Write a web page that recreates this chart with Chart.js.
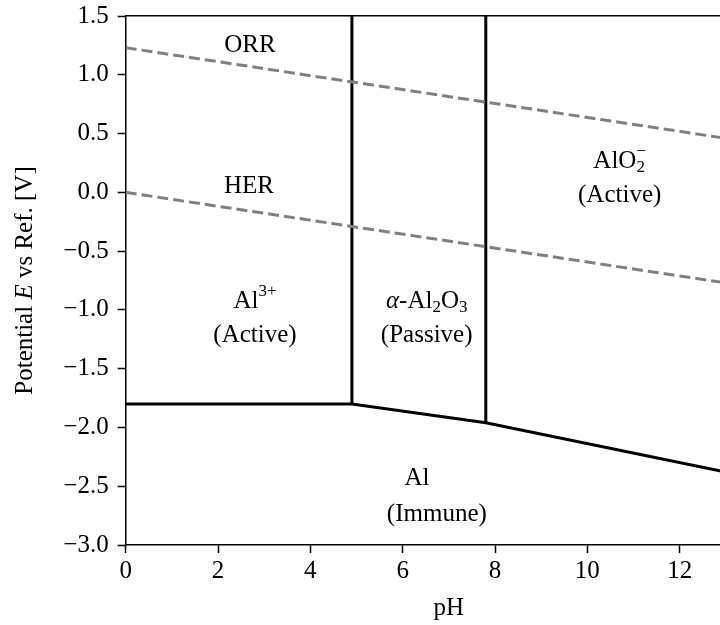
<!DOCTYPE html>
<html>
<head>
<meta charset="utf-8">
<script src="https://cdn.jsdelivr.net/npm/chart.js@4.4.0/dist/chart.umd.min.js"></script>
<style>
  html, body { margin: 0; padding: 0; background: #fff; overflow: hidden; }
  #wrap { width: 772px; height: 625px; position: relative; }
</style>
</head>
<body>
<div id="wrap"><canvas id="pourbaix"></canvas></div>
<script>
// water stability lines (dashed)
const orrPH = [0, 14];
const orrE = [1.23, 0.40];
const herPH = [0, 14];
const herE = [0.0, -0.83];

// phase boundaries of aluminium
const immunePH = [0, 4.9, 7.8, 14];
const immuneE = [-1.8, -1.8, -1.96, -2.46];
const acidPH = [4.9, 4.9];
const acidE = [-1.8, 1.5];
const alkaliPH = [7.8, 7.8];
const alkaliE = [-1.96, 1.5];

// axis ticks
const xTicks = [0, 2, 4, 6, 8, 10, 12, 14];
const yTicks = [1.5, 1.0, 0.5, 0.0, -0.5, -1.0, -1.5, -2.0, -2.5, -3.0];

// region labels: ^{} superscript, _{} subscript, *..* italic
const labelText = ["ORR", "HER", "Al^{3+}", "(Active)", "*α*-Al_{2}O_{3}", "(Passive)",
  "AlO_{2}^{−}", "(Active)", "Al", "(Immune)"];
const labelPH = [2.69, 2.67, 2.8, 2.8, 6.52, 6.52, 10.7, 10.7, 6.31, 6.74];
const labelE = [1.25, 0.05, -0.93, -1.22, -0.93, -1.22, 0.26, -0.03, -2.43, -2.74];

const FONT = "'Liberation Serif', 'DejaVu Serif', serif";
const BASE = 25;
const SMALL = 17;

const pts = (xs, ys) => xs.map((x, i) => ({ x: x, y: ys[i] }));

function line(data, color, width, dash) {
  return {
    data: data,
    showLine: true,
    borderColor: color,
    borderWidth: width,
    borderDash: dash || [],
    pointRadius: 0,
    borderCapStyle: "butt",
    tension: 0,
  };
}

// split markup into pieces with offsets
function layoutRich(ctx, text) {
  const re = /(\^\{[^}]*\}|_\{[^}]*\}|\*[^*]*\*|[^^_*]+)/g;
  const pieces = [];
  let x = 0, subStart = null, subW = 0;
  let m;
  while ((m = re.exec(text)) !== null) {
    const tok = m[0];
    let str, font, dy = 0, startX = x;
    if (tok[0] === "^") {
      str = tok.slice(2, -1); font = SMALL + "px " + FONT; dy = -10;
      if (subStart !== null) startX = subStart;
    } else if (tok[0] === "_") {
      str = tok.slice(2, -1); font = SMALL + "px " + FONT; dy = 6;
    } else if (tok[0] === "*") {
      str = tok.slice(1, -1); font = "italic " + BASE + "px " + FONT;
    } else {
      str = tok; font = BASE + "px " + FONT;
    }
    ctx.font = font;
    const w = ctx.measureText(str).width;
    pieces.push({ str, font, dx: startX, dy });
    if (tok[0] === "_") { subStart = startX; subW = w; x = startX + w; }
    else if (tok[0] === "^" && subStart !== null) { x = subStart + Math.max(w, subW); subStart = null; }
    else { x = startX + w; subStart = null; }
  }
  return { pieces, width: x };
}

function drawRich(ctx, text, cx, cy) {
  const lay = layoutRich(ctx, text);
  const x0 = cx - lay.width / 2;
  ctx.textBaseline = "middle";
  ctx.textAlign = "left";
  lay.pieces.forEach((p) => {
    ctx.font = p.font;
    ctx.fillText(p.str, x0 + p.dx, cy + p.dy);
  });
}

const annotate = {
  id: "annotate",
  afterDraw(chart) {
    const ctx = chart.ctx;
    const xs = chart.scales.x, ys = chart.scales.y;
    ctx.save();
    ctx.fillStyle = "#000";
    labelText.forEach((t, i) => {
      drawRich(ctx, t, xs.getPixelForValue(labelPH[i]), ys.getPixelForValue(labelE[i]));
    });

    // y-axis title with italic E
    const parts = [["Potential ", ""], ["E", "italic "], [" vs Ref. [V]", ""]];
    let total = 0;
    parts.forEach((p) => { ctx.font = p[1] + BASE + "px " + FONT; total += ctx.measureText(p[0]).width; });
    const cy = (chart.chartArea.top + chart.chartArea.bottom) / 2;
    ctx.translate(25, cy);
    ctx.rotate(-Math.PI / 2);
    ctx.textBaseline = "middle";
    ctx.textAlign = "left";
    let x = -total / 2;
    parts.forEach((p) => {
      ctx.font = p[1] + BASE + "px " + FONT;
      ctx.fillText(p[0], x, 0);
      x += ctx.measureText(p[0]).width;
    });
    ctx.restore();
  },
};

const tickFont = { family: FONT, size: BASE };

new Chart(document.getElementById("pourbaix"), {
  type: "scatter",
  data: {
    datasets: [
      line(pts(orrPH, orrE), "#808080", 3, [11, 5]),
      line(pts(herPH, herE), "#808080", 3, [11, 5]),
      line(pts(immunePH, immuneE), "#000", 3),
      line(pts(acidPH, acidE), "#000", 3),
      line(pts(alkaliPH, alkaliE), "#000", 3),
    ],
  },
  options: {
    responsive: true,
    maintainAspectRatio: false,
    animation: false,
    layout: { padding: 0 },
    plugins: { legend: { display: false }, tooltip: { enabled: false } },
    scales: {
      x: {
        type: "linear",
        position: "bottom",
        min: xTicks[0],
        max: xTicks[xTicks.length - 1],
        afterBuildTicks: (s) => { s.ticks = xTicks.map((v) => ({ value: v })); },
        ticks: { color: "#000", font: tickFont, padding: 3, maxRotation: 0, autoSkip: false },
        grid: { drawOnChartArea: false, tickLength: 8, tickColor: "#000", tickWidth: 1.5 },
        border: { color: "#000", width: 1.5 },
        title: { display: true, text: "pH", color: "#000", font: tickFont, padding: { top: 0, bottom: 2 } },
        afterFit: (s) => { s.height = 80; s.paddingLeft = 0; s.paddingRight = 0; },
      },
      xTop: {
        type: "linear",
        position: "top",
        min: 0,
        max: 14,
        ticks: { display: false },
        grid: { drawOnChartArea: false, drawTicks: false },
        border: { color: "#000", width: 1.5 },
        afterFit: (s) => { s.height = 16; s.paddingLeft = 0; s.paddingRight = 0; },
      },
      y: {
        type: "linear",
        min: yTicks[yTicks.length - 1],
        max: yTicks[0],
        afterBuildTicks: (s) => { s.ticks = yTicks.map((v) => ({ value: v })); },
        ticks: {
          color: "#000",
          font: tickFont,
          padding: 9,
          callback: (v) => v.toFixed(1).replace("-", "\u2212"),
        },
        grid: { drawOnChartArea: false, tickLength: 8, tickColor: "#000", tickWidth: 1.5 },
        border: { color: "#000", width: 1.5 },
        afterFit: (s) => { s.width = 125.7; s.paddingTop = 0; s.paddingBottom = 0; },
      },
    },
  },
  plugins: [annotate],
});
</script>
</body>
</html>
